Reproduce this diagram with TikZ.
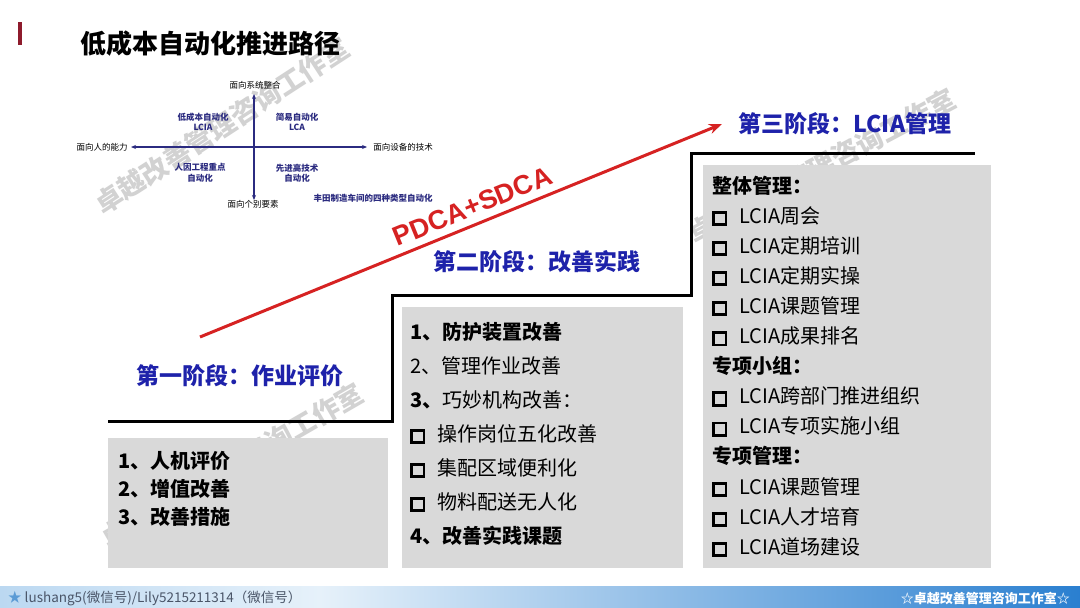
\documentclass[tikz,border=0pt]{standalone}
\usepackage{fontspec}
\setmainfont{Noto Sans CJK SC}
\newfontfamily\pdcafont{Liberation Sans}
\usetikzlibrary{
  arrows.meta,
  positioning
}
\definecolor{lcMark}{HTML}{8E1B2C}
\definecolor{lcRed}{HTML}{D62222}
\definecolor{lcStage}{HTML}{1E22AA}
\definecolor{lcNavy}{HTML}{2B2B80}
\definecolor{lcBox}{HTML}{D9D9D9}
\definecolor{lcWater}{HTML}{D2D2D2}
\definecolor{lcBarA}{HTML}{BBD8F1}
\definecolor{lcBarB}{HTML}{E6F1FA}
\definecolor{lcBarC}{HTML}{2A7FD0}
\definecolor{lcFoot}{HTML}{4A5568}
\definecolor{lcStar}{HTML}{5B9BD5}
\newcommand{\lcbox}{\raisebox{0pt}{\setlength{\fboxrule}{2.8pt}\setlength{\fboxsep}{0pt}\fbox{\rule{0pt}{9.5pt}\hspace{9.5pt}}}\hspace{12pt}}
\tikzset{
  wmark/.style={font=\fontsize{27}{27}\selectfont\bfseries, text=lcWater, inner sep=0pt},
  heading/.style={font=\fontsize{26}{26}\selectfont\bfseries, inner sep=0pt, anchor=west},
  stage/.style={font=\fontsize{23}{23}\selectfont\bfseries, text=lcStage, inner sep=0pt},
  qaxis/.style={{Stealth[length=5pt,width=4pt]}-{Stealth[length=5pt,width=4pt]}, lcNavy, line width=1.1pt},
  qlabel/.style={font=\fontsize{8.5}{10.5}\selectfont, inner sep=0pt, align=center},
  qtext/.style={qlabel, text=lcNavy, font=\fontsize{8.5}{10.5}\selectfont\bfseries},
  stair/.style={line width=3pt, line join=miter},
  pdca/.style={-{Stealth[length=13pt,width=10pt]}, line width=3pt, lcRed},
  pdcatag/.style={font=\pdcafont\fontsize{27}{27}\selectfont\bfseries, text=lcRed, inner sep=0pt},
  panel/.style={fill=lcBox},
  item/.style={inner sep=0pt, text width=260pt, text height=16pt, text depth=4pt, align=left,
    font=\fontsize{20}{24}\selectfont},
  itemb/.style={item, font=\fontsize{20}{24}\selectfont\bfseries},
  foot/.style={inner sep=0pt, font=\fontsize{13.5}{13.5}\selectfont, text=lcFoot}
}
\begin{document}
\begin{tikzpicture}[x=1pt, y=-1pt, node distance=10pt]
  \useasboundingbox (0,0) rectangle (1080,608);
  \fill[white] (0,0) rectangle (1080,608);

  \node[wmark, rotate=33] (wm1) at (222,126) {卓越改善管理咨询工作室};
  \node[wmark, rotate=28] (wm2) at (822,166) {卓越改善管理咨询工作室};
  \node[wmark, rotate=30] (wm3) at (232,465) {卓越改善管理咨询工作室};

  \fill[lcMark] (18,22) rectangle (22,45);
  \node[heading] (title) at (80,44) {低成本自动化推进路径};

  \coordinate (qL) at (131,147);
  \coordinate (qR) at (367,147);
  \coordinate (qT) at (254,94);
  \coordinate (qB) at (254,200);
  \draw[qaxis] (qL) -- (qR);
  \draw[qaxis] (qT) -- (qB);
  \node[qlabel] (qtop) at (255,85) {面向系统整合};
  \node[qlabel] (qbot) at (253,204) {面向个别要素};
  \node[qlabel] (qleft) at (102,147) {面向人的能力};
  \node[qlabel] (qright) at (403,147) {面向设备的技术};
  \node[qtext] (lcia) at (203,122) {低成本自动化\\LCIA};
  \node[qtext] (lca) at (297,122) {简易自动化\\LCA};
  \node[qtext] (ergo) at (200,173) {人因工程重点\\自动化};
  \node[qtext] (hitech) at (297,173) {先进高技术\\自动化};
  \node[qtext] (toyota) at (373,198) {丰田制造车间的四种类型自动化};

  \draw[stair] (108,421) -- (392,421) -- (392,295) -- (691,295) -- (691,153) -- (975,153);

  \coordinate (pdcaA) at (200,337);
  \coordinate (pdcaB) at (722,124);
  \draw[pdca] (pdcaA) -- node[pdcatag, pos=0.535, sloped, above=7pt] (pdcaT) {PDCA+SDCA} (pdcaB);

  \node[stage] (s1) at (240,376) {第一阶段：作业评价};
  \node[stage] (s2) at (537,262) {第二阶段：改善实践};
  \node[stage] (s3) at (845,124) {第三阶段：LCIA管理};

  \fill[panel] (108,438) rectangle (388,568);
  \fill[panel] (402,307) rectangle (683,568);
  \fill[panel] (703,165) rectangle (991,568);

  \node[itemb, anchor=west] (b1a) at (118,462) {1、人机评价};
  \node[itemb, below=8pt of b1a] (b1b) {2、增值改善};
  \node[itemb, below=8pt of b1b] (b1c) {3、改善措施};

  \node[itemb, anchor=west] (b2a) at (410,333) {1、防护装置改善};
  \node[item, below=13.6pt of b2a] (b2b) {2、管理作业改善};
  \node[item, below=13.6pt of b2b] (b2c) {\textbf{3、}巧妙机构改善：};
  \node[item, below=13.6pt of b2c] (b2d) {\lcbox 操作岗位五化改善};
  \node[item, below=13.6pt of b2d] (b2e) {\lcbox 集配区域便利化};
  \node[item, below=13.6pt of b2e] (b2f) {\lcbox 物料配送无人化};
  \node[itemb, below=13.6pt of b2f] (b2g) {4、改善实践课题};

  \node[itemb, anchor=west] (b3a) at (712,187) {整体管理：};
  \node[item, below=9.7pt of b3a] (b3b) {\lcbox LCIA周会};
  \node[item, below=9.7pt of b3b] (b3c) {\lcbox LCIA定期培训};
  \node[item, below=9.7pt of b3c] (b3d) {\lcbox LCIA定期实操};
  \node[item, below=9.7pt of b3d] (b3e) {\lcbox LCIA课题管理};
  \node[item, below=9.7pt of b3e] (b3f) {\lcbox LCIA成果排名};
  \node[itemb, below=9.7pt of b3f] (b3g) {专项小组：};
  \node[item, below=9.7pt of b3g] (b3h) {\lcbox LCIA跨部门推进组织};
  \node[item, below=9.7pt of b3h] (b3i) {\lcbox LCIA专项实施小组};
  \node[itemb, below=9.7pt of b3i] (b3j) {专项管理：};
  \node[item, below=9.7pt of b3j] (b3k) {\lcbox LCIA课题管理};
  \node[item, below=9.7pt of b3k] (b3l) {\lcbox LCIA人才培育};
  \node[item, below=9.7pt of b3l] (b3m) {\lcbox LCIA道场建设};

  \shade[left color=lcBarA, right color=lcBarB] (0,586) rectangle (320,608);
  \shade[left color=lcBarB, right color=lcBarC] (320,586) rectangle (1080,608);
  \node[foot, anchor=west] (footL) at (8,598) {\textcolor{lcStar}{★} lushang5(微信号)/Lily5215211314（微信号）};
  \node[foot, anchor=east, text=white, font=\fontsize{13}{13}\selectfont\bfseries] (footR) at (1070,598) {☆卓越改善管理咨询工作室☆};
\end{tikzpicture}
\end{document}
